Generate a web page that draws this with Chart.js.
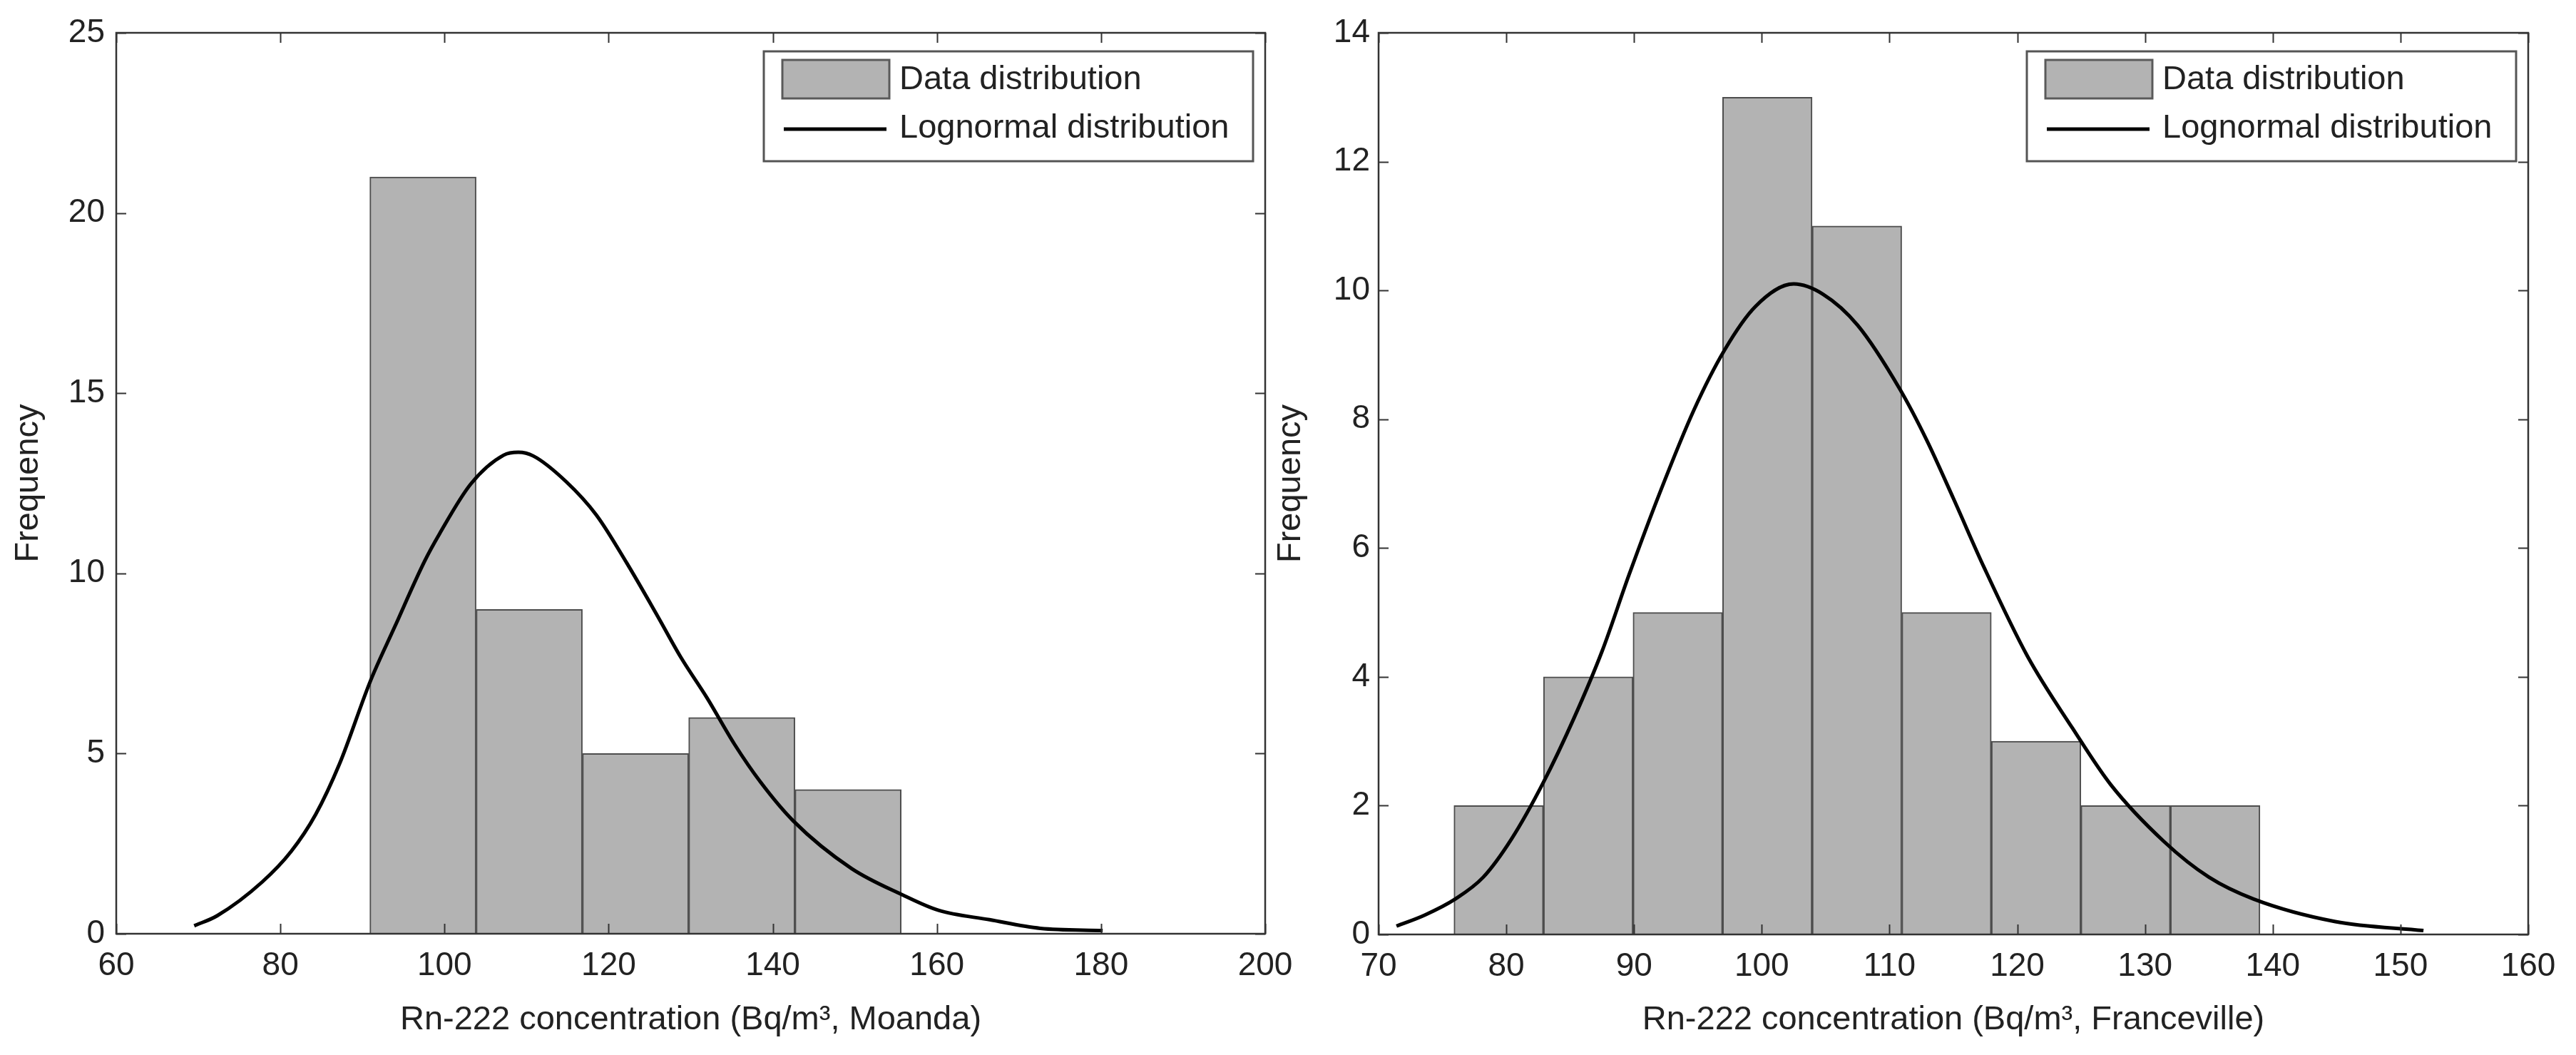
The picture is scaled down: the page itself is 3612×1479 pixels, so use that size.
<!DOCTYPE html>
<html><head><meta charset="utf-8">
<script src="https://cdn.jsdelivr.net/npm/chart.js@4.4.0/dist/chart.umd.min.js"></script>
<style>
html,body{margin:0;padding:0;background:#fff;}
body{width:3612px;height:1479px;position:relative;overflow:hidden;}
#c1{position:absolute;left:0;top:0;}
#c2{position:absolute;left:1740px;top:0;}
</style></head><body>
<canvas id="c1" width="1850" height="1479"></canvas>
<canvas id="c2" width="1872" height="1479"></canvas>
<script>
// ---------- data ----------
const seriesLabels = ['Data distribution', 'Lognormal distribution'];
const yTitle = 'Frequency';

// Moanda (left panel)
const moandaXTitle = 'Rn-222 concentration (Bq/m³, Moanda)';
const moandaXRange = [60, 200];
const moandaXStep = 20;
const moandaYRange = [0, 25];
const moandaYStep = 5;
const moandaBinEdges = [90.9, 103.85, 116.8, 129.75, 142.7, 155.65];
const moandaCounts = [21, 9, 5, 6, 4];
const moandaCurveX = [69.5, 72.3, 77.8, 81.3, 84.3, 87.2, 91.0, 93.9, 97.6, 99.4, 103.2, 107.2, 109.0, 110.8, 114.8, 118.5, 122.2, 126.0, 128.8, 132.0, 135.3, 138.5, 142.5, 149.6, 155.8, 160.2, 166.4, 172.6, 180.2];
const moandaCurveY = [0.22, 0.5, 1.44, 2.28, 3.31, 4.71, 7.03, 8.5, 10.35, 11.1, 12.48, 13.28, 13.36, 13.26, 12.55, 11.62, 10.29, 8.8, 7.67, 6.54, 5.27, 4.21, 3.13, 1.81, 1.08, 0.65, 0.39, 0.15, 0.09];

// Franceville (right panel)
const francevilleXTitle = 'Rn-222 concentration (Bq/m³, Franceville)';
const francevilleXRange = [70, 160];
const francevilleXStep = 10;
const francevilleYRange = [0, 14];
const francevilleYStep = 2;
const francevilleBinEdges = [75.9, 82.91, 89.92, 96.93, 103.94, 110.96, 117.97, 124.98, 131.99, 139.0];
const francevilleCounts = [2, 4, 5, 13, 11, 5, 3, 2, 2];
const francevilleCurveX = [71.4, 73.6, 76.0, 78.2, 80.4, 82.9, 85.3, 87.5, 89.6, 92.0, 94.7, 97.1, 99.5, 102.5, 104.8, 107.5, 110.8, 112.9, 115.0, 117.4, 120.8, 124.3, 127.3, 131.5, 135.0, 138.5, 144.9, 151.8];
const francevilleCurveY = [0.13, 0.30, 0.55, 0.89, 1.48, 2.36, 3.36, 4.40, 5.58, 6.85, 8.15, 9.08, 9.75, 10.10, 9.94, 9.46, 8.47, 7.68, 6.77, 5.70, 4.32, 3.21, 2.33, 1.44, 0.89, 0.55, 0.20, 0.06];

// ---------- styling ----------
const FONT = '"Liberation Sans", Arial, Helvetica, sans-serif';
const TEXT = '#222222';
const BAR_FILL = '#b3b3b3';
const BAR_EDGE = '#4d4d4d';
const AXIS = '#333333';

Chart.defaults.font.family = FONT;
Chart.defaults.color = TEXT;

const matlabFrame = {
  id: 'matlabFrame',
  afterDatasetsDraw(chart) {
    const ctx = chart.ctx, a = chart.chartArea;
    const xs = chart.scales.x, ys = chart.scales.y;
    const tl = 14;
    ctx.save();
    ctx.strokeStyle = AXIS;
    ctx.lineWidth = 2;
    ctx.beginPath();
    xs.ticks.forEach(t => {
      const p = Math.round(xs.getPixelForValue(t.value)) + 0.5;
      ctx.moveTo(p, a.bottom); ctx.lineTo(p, a.bottom - tl);
      ctx.moveTo(p, a.top); ctx.lineTo(p, a.top + tl);
    });
    ys.ticks.forEach(t => {
      const p = Math.round(ys.getPixelForValue(t.value)) + 0.5;
      ctx.moveTo(a.left, p); ctx.lineTo(a.left + tl, p);
      ctx.moveTo(a.right, p); ctx.lineTo(a.right - tl, p);
    });
    ctx.stroke();
    ctx.lineWidth = 2.5;
    ctx.strokeRect(a.left, a.top, a.right - a.left, a.bottom - a.top);
    ctx.restore();
  },
  afterDraw(chart) {
    const ctx = chart.ctx, a = chart.chartArea;
    const w = 686, h = 154;
    const x = a.right - 17 - w, y = a.top + 26;
    ctx.save();
    ctx.fillStyle = '#ffffff';
    ctx.fillRect(x, y, w, h);
    ctx.strokeStyle = '#555555';
    ctx.lineWidth = 3;
    ctx.strokeRect(x, y, w, h);
    // patch
    ctx.fillStyle = BAR_FILL;
    ctx.fillRect(x + 26, y + 12, 150, 54);
    ctx.strokeStyle = '#5a5a5a';
    ctx.lineWidth = 3;
    ctx.strokeRect(x + 26, y + 12, 150, 54);
    // line sample
    ctx.strokeStyle = '#000000';
    ctx.lineWidth = 5;
    ctx.beginPath();
    ctx.moveTo(x + 28, y + 109);
    ctx.lineTo(x + 172, y + 109);
    ctx.stroke();
    // text
    ctx.fillStyle = TEXT;
    ctx.font = '47px ' + FONT;
    ctx.textBaseline = 'middle';
    ctx.textAlign = 'left';
    ctx.fillText(chart.data.datasets[0].label, x + 190, y + 40);
    ctx.fillText(chart.data.datasets[1].label, x + 190, y + 108);
    ctx.restore();
  }
};

function makeChart(id, cfg) {
  const centers = cfg.counts.map((c, i) => (cfg.edges[i] + cfg.edges[i + 1]) / 2);
  const barData = cfg.counts.map((c, i) => ({x: centers[i], y: c}));
  const lineData = cfg.curveX.map((v, i) => ({x: v, y: cfg.curveY[i]}));
  return new Chart(document.getElementById(id), {
    type: 'bar',
    data: {
      datasets: [
        {
          type: 'bar', label: seriesLabels[0], data: barData,
          backgroundColor: BAR_FILL, borderColor: BAR_EDGE, borderWidth: 2,
          barPercentage: 1, categoryPercentage: 1, order: 1
        },
        {
          type: 'line', label: seriesLabels[1], data: lineData,
          borderColor: '#000000', borderWidth: 5, pointRadius: 0,
          cubicInterpolationMode: 'monotone', fill: false, order: 0
        }
      ]
    },
    options: {
      responsive: false, animation: false, devicePixelRatio: 1,
      layout: {padding: {left: 0, right: cfg.padRight, top: 46, bottom: 0}},
      plugins: {legend: {display: false}, tooltip: {enabled: false}},
      scales: {
        x: {
          type: 'linear', offset: false,
          min: cfg.xRange[0], max: cfg.xRange[1],
          grid: {display: false, drawTicks: false}, border: {display: false},
          ticks: {stepSize: cfg.xStep, font: {size: 46}, color: TEXT, padding: 18, maxRotation: 0, autoSkip: false},
          title: {display: true, text: cfg.xTitle, font: {size: 47}, color: TEXT, padding: {top: 0, bottom: 21}},
          afterFit: s => { s.height = cfg.xHeight; s.paddingLeft = 0; s.paddingRight = 0; }
        },
        y: {
          type: 'linear',
          min: cfg.yRange[0], max: cfg.yRange[1],
          grid: {display: false, drawTicks: false}, border: {display: false},
          ticks: {stepSize: cfg.yStep, font: {size: 46}, color: TEXT, padding: cfg.yTickPad},
          title: {display: true, text: yTitle, font: {size: 47}, color: TEXT, padding: {top: cfg.yTitlePad, bottom: 0}},
          afterFit: s => { s.width = cfg.yWidth; s.paddingTop = 0; s.paddingBottom = 0; }
        }
      }
    },
    plugins: [matlabFrame]
  });
}

makeChart('c1', {
  edges: moandaBinEdges, counts: moandaCounts, curveX: moandaCurveX, curveY: moandaCurveY,
  xRange: moandaXRange, xStep: moandaXStep, yRange: moandaYRange, yStep: moandaYStep,
  xTitle: moandaXTitle, padRight: 1850 - 1774, yWidth: 163, xHeight: 170, yTitlePad: 12, yTickPad: 16
});
makeChart('c2', {
  edges: francevilleBinEdges, counts: francevilleCounts, curveX: francevilleCurveX, curveY: francevilleCurveY,
  xRange: francevilleXRange, xStep: francevilleXStep, yRange: francevilleYRange, yStep: francevilleYStep,
  xTitle: francevilleXTitle, padRight: 1872 - (3545 - 1740), yWidth: 1933 - 1740, xHeight: 169, yTitlePad: 42, yTickPad: 12
});
</script>
</body></html>
